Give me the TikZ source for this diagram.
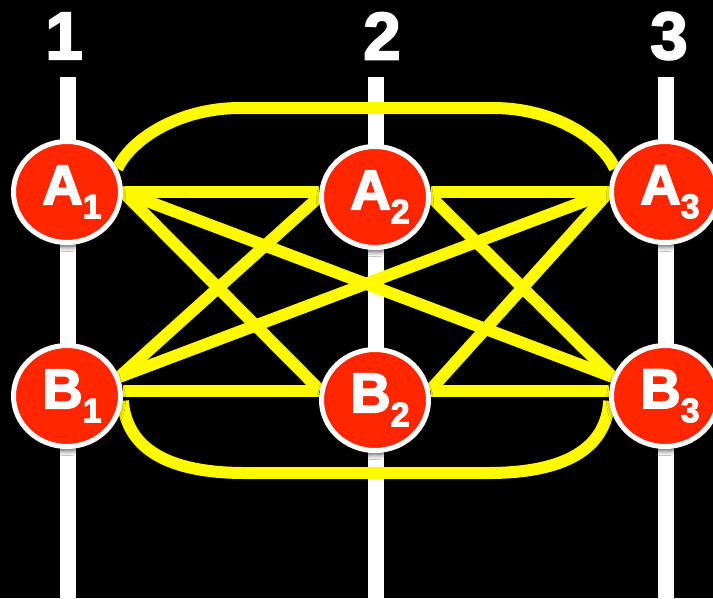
\documentclass[tikz,border=0pt]{standalone}
\usepackage{fontspec}
\setmainfont{Liberation Sans}
\usetikzlibrary{shapes.geometric,backgrounds,shadows.blur}
\definecolor{stationred}{RGB}{255,38,0}
\definecolor{wire}{RGB}{255,250,0}
% station label: letter with a lowered index
\newcommand\stlabel[2]{\kern10pt #1\raisebox{-14pt}{\fontsize{34}{34}\selectfont #2}}
\begin{document}
\begin{tikzpicture}[x=1pt,y=-1pt,
  station/.style={ellipse, draw=white, line width=5pt, fill=stationred,
    minimum width=107pt, minimum height=101pt, inner sep=0pt,
    blur shadow={shadow xshift=0pt, shadow yshift=-4pt, shadow blur radius=5pt,
      shadow blur steps=8, shadow opacity=70},
    text=white, font=\fontsize{56}{56}\selectfont\bfseries\addfontfeatures{FakeBold=3}},
  track/.style={line width=16pt, white},
  link/.style={line width=12pt, wire},
  colnum/.style={text=white, inner sep=0pt,
    font=\fontsize{67}{67}\selectfont\bfseries\addfontfeatures{FakeBold=3}}
]
\useasboundingbox (0,0) rectangle (713,598);

% column numbers
\node[colnum] (n1) at (64,36) {1};
\node[colnum] (n2) at (382,36) {2};
\node[colnum] (n3) at (669,36) {3};

% stations
\node[station] (A1) at (67,192) {\stlabel{A}{1}};
\node[station] (A2) at (375,197) {\stlabel{A}{2}};
\node[station] (A3) at (665,192) {\stlabel{A}{3}};
\node[station] (B1) at (67,396) {\stlabel{B}{1}};
\node[station] (B2) at (375,400) {\stlabel{B}{2}};
\node[station] (B3) at (665,396) {\stlabel{B}{3}};

\begin{scope}[on background layer]
  \fill[black] (0,0) rectangle (713,598);

  % vertical tracks
  \coordinate (t1) at (68,77);  \coordinate (e1) at (68,598);
  \coordinate (t2) at (376,77); \coordinate (e2) at (376,598);
  \coordinate (t3) at (666,77); \coordinate (e3) at (666,598);
  \draw[track] (t1) -- (e1);
  \draw[track] (t2) -- (e2);
  \draw[track] (t3) -- (e3);

  % straight links within a row
  \draw[link] (A1.east) -- (A1.east -| A2.west);
  \draw[link] (A3.west -| A2.east) -- (A3.west);
  \draw[link] (B1.5) -- (B1.5 -| B2.west);
  \draw[link] (B3.175 -| B2.east) -- (B3.175);

  % diagonal links between rows
  \draw[link] (A1.east) -- (B2.170);
  \draw[link] (A1.east) -- (B3.160);
  \draw[link] (A2.west) -- (B1.20);
  \draw[link] (A2.east) -- (B3.160);
  \draw[link] (A3.west) -- (B1.20);
  \draw[link] (A3.west) -- (B2.10);

  % outer loops
  \draw[link] (A1.25) .. controls (132,138) and (180,108) .. (240,108)
    -- (493,108) .. controls (553,108) and (601,138) .. (A3.155);
  \draw[link] (B1.-5) .. controls (127,450) and (170,473) .. (245,473)
    -- (488,473) .. controls (563,473) and (606,450) .. (B3.185);
\end{scope}
\end{tikzpicture}
\end{document}
